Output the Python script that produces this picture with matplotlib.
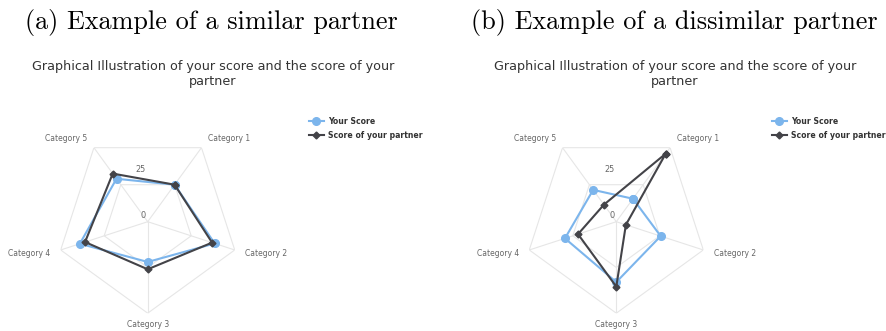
import numpy as np
import matplotlib
matplotlib.use('Agg')
import matplotlib.pyplot as plt

# data
categories = ['Category 1', 'Category 2', 'Category 3', 'Category 4', 'Category 5']
similar_you = [25, 38.5, 22, 39, 29]
similar_partner = [25, 37, 26, 36, 32.5]
dissimilar_you = [15.5, 25.5, 33, 29.5, 21.5]
dissimilar_partner = [46, 5.5, 35.5, 22, 11.5]
rings = [25, 50]
ring_labels = [0, 25]
rmax = 50

titles = ['(a) Example of a similar partner', '(b) Example of a dissimilar partner']
subtitle = 'Graphical Illustration of your score and the score of your\npartner'

BLUE = '#7cb5ec'
DARK = '#434348'
GRID = '#e6e6e6'

W, H = 886, 331
fig = plt.figure(figsize=(W / 100, H / 100), dpi=100)

# pixel layout of each panel: (title x, subtitle centre x, polar centre x, legend x)
panels = [
    dict(you=similar_you, partner=similar_partner, tx=25, sx=213, cx=147.7, lx=309),
    dict(you=dissimilar_you, partner=dissimilar_partner, tx=471, sx=675, cx=616.3, lx=772),
]
cy = 221.7
R = 91.5

theta = np.deg2rad(36 + 72 * np.arange(len(categories)))
theta_c = np.append(theta, theta[0])

for p, title in zip(panels, titles):
    fig.text(p['tx'] / W, 1 - 29 / H, title, family='cmr10', fontsize=18.9,
             color='black', ha='left', va='baseline')
    fig.text(p['sx'] / W, 1 - 60 / H, subtitle, fontsize=9.2, color='#333333',
             ha='center', va='top', linespacing=1.2)

    ax = fig.add_axes([(p['cx'] - R) / W, (H - cy - R) / H, 2 * R / W, 2 * R / H],
                      projection='polar')
    ax.set_theta_zero_location('N')
    ax.set_theta_direction(-1)
    ax.set_ylim(0, rmax)
    ax.axis('off')

    # polygon grid
    for r in rings:
        ax.plot(theta_c, [r] * len(theta_c), color=GRID, lw=0.8, zorder=1)
    for th in theta:
        ax.plot([th, th], [0, rmax], color=GRID, lw=0.8, zorder=1)
    for v in ring_labels:
        ax.annotate(str(v), xy=(0, v), xytext=(-2, 2), textcoords='offset pixels',
                    ha='right', va='bottom', fontsize=5.9, color='#666666')

    # category labels
    for th, cat in zip(theta, categories):
        s, c = np.sin(th), np.cos(th)
        if abs(s) < 0.1:
            ha, va, off = 'center', 'top', (0, -7)
        else:
            ha = 'left' if s > 0 else 'right'
            va, off = 'center', (11 * s, 11 * c)
        ax.annotate(cat, xy=(th, rmax), xytext=off, textcoords='offset pixels',
                    ha=ha, va=va, fontsize=5.5, color='#666666', annotation_clip=False)

    l1, = ax.plot(theta_c, np.append(p['you'], p['you'][0]), color=BLUE, lw=1.5,
                  marker='o', ms=5.5, label='Your Score', zorder=3, clip_on=False)
    l2, = ax.plot(theta_c, np.append(p['partner'], p['partner'][0]), color=DARK, lw=1.5,
                  marker='D', ms=3.5, label='Score of your partner', zorder=4, clip_on=False)

    leg = fig.legend(handles=[l1, l2], loc='upper left',
                     bbox_to_anchor=(p['lx'] / W, 1 - 117 / H), frameon=False,
                     prop=dict(size=5.6, weight='bold'), handlelength=1.9,
                     handletextpad=0.5, labelspacing=0.65, borderpad=0, borderaxespad=0)
    for t in leg.get_texts():
        t.set_color('#333333')

fig.savefig('out.png', dpi=100)
